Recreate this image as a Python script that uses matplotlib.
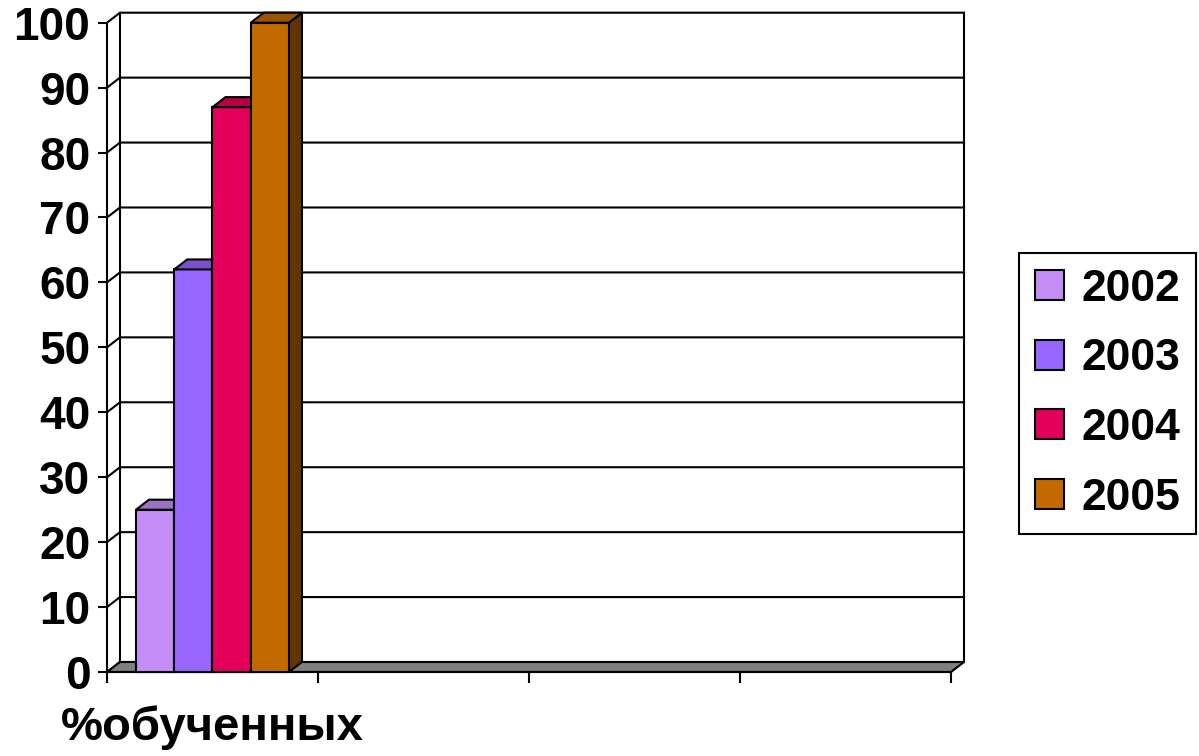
import matplotlib
matplotlib.use("Agg")
import matplotlib.pyplot as plt
from matplotlib.patches import Polygon
from matplotlib.colors import to_rgb

# =============================================================================
# DONNÉES
# =============================================================================
CATEGORIES = ["%обученных", "", "", ""]
YEARS = ["2002", "2003", "2004", "2005"]
VALUES = [25, 62, 87, 100]          # seule la première catégorie est remplie
COLORS = ["#C48EF6", "#9966FF", "#E2005A", "#C26A00"]
Y_TICKS = list(range(0, 101, 10))

# profondeur "3D" (en unités de données)
DX = 13 / 211
DY = 10 / 6.493
GROUP_W = 0.725
LW = 1.5


def shade(color, f):
    r, g, b = to_rgb(color)
    return (r * f, g * f, b * f)


def main():
    plt.rcParams["font.family"] = ["Liberation Sans", "DejaVu Sans"]
    plt.rcParams["font.weight"] = "bold"

    fig = plt.figure(figsize=(11.99, 7.56), dpi=100)
    ax = fig.add_axes([107 / 1199, 84 / 756, 844 / 1199, 649.3 / 756])
    ncat = len(CATEGORIES)
    ax.set_xlim(0, ncat)
    ax.set_ylim(0, 100)
    ax.patch.set_visible(False)

    # murs : quadrillage (mur gauche + mur du fond)
    for v in Y_TICKS:
        ax.plot([0, DX, ncat + DX], [v, v + DY, v + DY], color="black",
                lw=LW, clip_on=False, zorder=1)
    ax.plot([DX, DX], [DY, 100 + DY], color="black", lw=LW, clip_on=False, zorder=1)
    ax.plot([ncat + DX, ncat + DX], [DY, 100 + DY], color="black", lw=LW,
            clip_on=False, zorder=1)

    # sol
    floor = Polygon([(0, 0), (ncat, 0), (ncat + DX, DY), (DX, DY)],
                    closed=True, facecolor="#808080", edgecolor="black",
                    lw=LW, clip_on=False, zorder=1.5)
    ax.add_patch(floor)

    # barres
    w = GROUP_W / len(YEARS)
    handles = []
    for i, (year, val, col) in enumerate(zip(YEARS, VALUES, COLORS)):
        pos = 0.5 + (i - (len(YEARS) - 1) / 2) * w
        z = 3 + i
        x0, x1 = pos - w / 2, pos + w / 2
        side = Polygon([(x1, 0), (x1, val), (x1 + DX, val + DY), (x1 + DX, DY)],
                       closed=True, facecolor=shade(col, 0.5), edgecolor="black",
                       lw=LW, clip_on=False, zorder=z - 0.1)
        ax.add_patch(side)
        b = ax.bar(pos, val, w, color=col, edgecolor="black", lw=LW,
                   zorder=z, clip_on=False, label=year)
        top = Polygon([(x0, val), (x1, val), (x1 + DX, val + DY), (x0 + DX, val + DY)],
                      closed=True, facecolor=shade(col, 0.8), edgecolor="black",
                      lw=LW, clip_on=False, zorder=z)
        ax.add_patch(top)
        handles.append(b)

    # axes
    for s in ("top", "right"):
        ax.spines[s].set_visible(False)
    ax.spines["left"].set_linewidth(LW)
    ax.spines["bottom"].set_linewidth(LW)
    ax.spines["left"].set_zorder(10)

    ax.set_yticks(Y_TICKS)
    ax.tick_params(axis="y", direction="out", length=6.5, width=LW,
                   labelsize=33, pad=5.5)
    ax.set_xticks(range(ncat + 1))
    ax.set_xticklabels([])
    ax.tick_params(axis="x", which="major", direction="out", length=8, width=LW)
    ax.set_xticks([c + 0.5 for c in range(ncat)], minor=True)
    ax.set_xticklabels(CATEGORIES, minor=True)
    ax.tick_params(axis="x", which="minor", length=0, labelsize=34, pad=24)

    leg = fig.legend(handles=handles, labels=YEARS, loc="upper left",
                     bbox_to_anchor=(1019 / 1199, 1 - 253 / 756),
                     bbox_transform=fig.transFigure, fontsize=32,
                     frameon=True, fancybox=False, framealpha=1,
                     edgecolor="black", borderpad=0.35, borderaxespad=0,
                     handlelength=0.66, handleheight=0.66, handletextpad=0.4,
                     labelspacing=0.645)
    leg.get_frame().set_linewidth(LW)

    fig.savefig("out.png", dpi=100)


if __name__ == "__main__":
    main()
